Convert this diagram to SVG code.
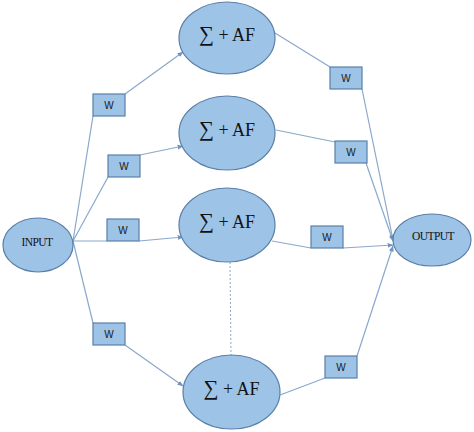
<svg xmlns="http://www.w3.org/2000/svg" width="474" height="432" viewBox="0 0 474 432">
<defs>
<style>
.node{fill:#9dc3e6;stroke:#5b7fa8;stroke-width:1.2}
.w{fill:#9dc3e6;stroke:#5b7fa8;stroke-width:1.2}
.wl{font-family:"Liberation Sans",Arial,sans-serif;font-size:10px;fill:#1a1a1a;text-anchor:middle}
.sum{font-family:"Liberation Serif","Times New Roman",serif;font-size:18px;fill:#111;text-anchor:middle}
.sg{font-size:21px}
.io{font-family:"Liberation Serif","Times New Roman",serif;font-size:11.5px;letter-spacing:-0.6px;fill:#111;text-anchor:middle}
.c{stroke:#8aa8cc;stroke-width:1.2;fill:none}
.d{stroke:#8aa8cc;stroke-width:1;stroke-dasharray:2,2;fill:none}
</style>
<marker id="ah" viewBox="0 0 10 10" refX="9" refY="5" markerWidth="5" markerHeight="5" orient="auto">
<path d="M0,1 L10,5 L0,9 z" fill="#6f93c0"/>
</marker>
</defs>
<rect width="474" height="432" fill="#fff"/>
<g id="connectors">
<path class="c" d="M73,241 L93,116"/>
<path class="c" d="M125,94 L183,52" marker-end="url(#ah)"/>
<path class="c" d="M73,241 L108,177"/>
<path class="c" d="M140,155 L183,146" marker-end="url(#ah)"/>
<path class="c" d="M73,241 L107,241"/>
<path class="c" d="M139,241 L183,237" marker-end="url(#ah)"/>
<path class="c" d="M73,241 L93,323"/>
<path class="c" d="M125,345 L183,386" marker-end="url(#ah)"/>
<path class="c" d="M275,33 L330,67"/>
<path class="c" d="M362,89 L393,240" marker-end="url(#ah)"/>
<path class="c" d="M276,130 L335,142"/>
<path class="c" d="M366,163 L393,241" marker-end="url(#ah)"/>
<path class="c" d="M272,241 L311,248"/>
<path class="c" d="M343,248 L393,245" marker-end="url(#ah)"/>
<path class="c" d="M280,395 L325,378"/>
<path class="c" d="M357,356 L393,246" marker-end="url(#ah)"/>
<path class="d" d="M230,262 L231,356"/>
</g>
<g id="input"><ellipse class="node" cx="38" cy="245" rx="35" ry="27"/><text class="io" x="37" y="246">INPUT</text></g>
<g id="output"><ellipse class="node" cx="432" cy="240" rx="39" ry="26"/><text class="io" x="433" y="240">OUTPUT</text></g>
<g id="n1"><ellipse class="node" cx="227" cy="38" rx="48" ry="36"/><text class="sum" x="227" y="41"><tspan class="sg">∑</tspan> + AF</text></g>
<g id="n2"><ellipse class="node" cx="227" cy="133" rx="48" ry="37"/><text class="sum" x="227" y="136"><tspan class="sg">∑</tspan> + AF</text></g>
<g id="n3"><ellipse class="node" cx="227" cy="225" rx="48" ry="37"/><text class="sum" x="227" y="228"><tspan class="sg">∑</tspan> + AF</text></g>
<g id="n4"><ellipse class="node" cx="231.5" cy="392" rx="48.5" ry="37"/><text class="sum" x="231.5" y="395"><tspan class="sg">∑</tspan> + AF</text></g>
<g id="w1"><rect class="w" x="93" y="94" width="32" height="22"/><text class="wl" x="109" y="109">W</text></g>
<g id="w2"><rect class="w" x="108" y="155" width="32" height="22"/><text class="wl" x="124" y="170">W</text></g>
<g id="w3"><rect class="w" x="107" y="219" width="32" height="22"/><text class="wl" x="123" y="234">W</text></g>
<g id="w4"><rect class="w" x="93" y="323" width="32" height="22"/><text class="wl" x="109" y="338">W</text></g>
<g id="w5"><rect class="w" x="330" y="67" width="32" height="22"/><text class="wl" x="346" y="82">W</text></g>
<g id="w6"><rect class="w" x="335" y="141" width="32" height="22"/><text class="wl" x="351" y="156">W</text></g>
<g id="w7"><rect class="w" x="311" y="226" width="32" height="22"/><text class="wl" x="327" y="241">W</text></g>
<g id="w8"><rect class="w" x="325" y="356" width="32" height="22"/><text class="wl" x="341" y="371">W</text></g>
</svg>
